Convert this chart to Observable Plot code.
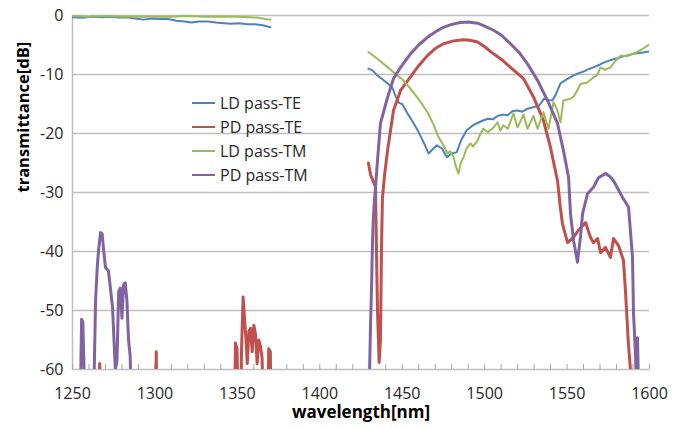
<!DOCTYPE html>
<html><head><meta charset="utf-8">
<script src="https://cdn.jsdelivr.net/npm/d3@7"></script>
<script src="https://cdn.jsdelivr.net/npm/@observablehq/plot@0.6"></script>
<style>
body{margin:0;background:#fff;}
#wrap{position:relative;width:683px;height:429px;font-family:"Open Sans",sans-serif;}
.legend{position:absolute;left:192px;top:91px;font-size:16px;color:#262626;line-height:24px;}
.legend div{display:flex;align-items:center;height:24px;}
.legend .sw{display:inline-block;width:23px;height:0;border-top:2.5px solid;margin-right:5px;}
</style></head><body><div id="wrap"></div>
<script>
const seriesNames = ["LD pass-TE", "PD pass-TE", "LD pass-TM", "PD pass-TM"];
const seriesColors = ["#4f81bd", "#c0504d", "#9bbb59", "#8064a2"];
const seriesWidths = [2, 3, 2, 3];
const xTicks = [1250, 1300, 1350, 1400, 1450, 1500, 1550, 1600];
const yTicks = [0, -10, -20, -30, -40, -50, -60];
const minorTicks = d3.range(1250, 1601, 10);

// values below -60 dB are off-scale (clipped); null breaks the line
const ldTE = [[1250,-0.3],[1256,-0.4],[1262,-0.2],[1268,-0.3],[1273,-0.2],[1278,-0.35],[1283,-0.3],[1288,-0.5],[1293,-0.7],[1298,-0.5],[1303,-0.6],[1308,-0.6],[1313,-0.9],[1318,-1.0],[1322,-1.2],[1327,-1.0],[1332,-1.0],[1337,-1.2],[1342,-1.3],[1346,-1.4],[1351,-1.3],[1356,-1.5],[1361,-1.5],[1366,-1.7],[1370,-2.0],[1371,null],
 [1429.5,-9],[1432,-9.3],[1435,-10.2],[1438,-10.8],[1441,-11.5],[1444,-12.2],[1446,-13.7],[1448,-14.8],[1450,-15],[1453,-16.5],[1457,-18.3],[1460,-19.8],[1463,-21.5],[1466,-23.4],[1468,-22.8],[1471,-22],[1474,-22.5],[1477,-24],[1480,-23.4],[1483,-23.2],[1486,-21],[1489,-19.5],[1492,-18.8],[1495,-18.3],[1499,-17.8],[1502,-17.5],[1505,-17.6],[1508,-17],[1511,-16.8],[1514,-16.9],[1517,-16.2],[1520,-16.1],[1523,-16.3],[1526,-15.8],[1530,-15.5],[1533,-15.3],[1536,-14.1],[1539,-14.3],[1541,-14.4],[1543,-13.5],[1546,-11.5],[1550,-10.8],[1553,-10.3],[1556,-9.9],[1560,-9.5],[1563,-9.1],[1566,-8.8],[1570,-8.3],[1573,-7.9],[1576,-7.6],[1580,-7.3],[1583,-7.0],[1586,-6.8],[1590,-6.5],[1595,-6.3],[1600,-6.1]];

const pdTE = [[1265.5,-70],[1266.5,-59],[1267.5,-70],[1300.3,-70],[1300.8,-57],[1301.3,-70],
 [1348.3,-70],[1348.8,-55.5],[1349.8,-56.5],[1350.8,-70],[1352,-70],[1352.5,-57],[1353.5,-47.7],[1354.5,-52],[1355.3,-55],[1356,-59],[1357,-53.5],[1358,-53],[1359,-57],[1360,-52.5],[1361,-54],[1362,-59],[1363,-55],[1364,-56],[1365,-58],[1366,-70],[1368.5,-70],[1369,-56.5],[1370,-57],[1370.5,-70],[1371,null],
 [1429.5,-25],[1430.8,-27],[1433.8,-29],[1434.4,-40],[1435,-50],[1436,-58.8],[1436.8,-55],[1437.4,-40],[1438,-31],[1439.3,-27],[1441.1,-22.9],[1444.7,-16.1],[1449,-12.7],[1455,-10.4],[1460,-8.5],[1465.3,-6.8],[1470,-5.6],[1475,-4.8],[1481,-4.3],[1487.2,-4.1],[1491,-4.2],[1495.7,-4.5],[1500,-5.3],[1505.4,-6.5],[1510,-7.4],[1515.7,-8.8],[1523.6,-10.7],[1529.6,-13.8],[1535.7,-17.8],[1539.9,-22.3],[1544.2,-28],[1545.9,-32.5],[1547.2,-35.3],[1550.3,-38.5],[1553.9,-37.6],[1556.9,-36.4],[1561.2,-35.1],[1564.2,-37.6],[1566,-38.5],[1568.5,-37.8],[1570.3,-40.2],[1573.3,-39.3],[1576.3,-41],[1578.2,-37.8],[1581.2,-39],[1584.2,-41.5],[1585.4,-46.6],[1587.2,-55.6],[1589,-62]];

const ldTM = [[1250,-0.1],[1260,-0.2],[1270,-0.1],[1280,-0.2],[1290,-0.15],[1300,-0.2],[1310,-0.2],[1320,-0.1],[1330,-0.2],[1340,-0.15],[1350,-0.2],[1358,-0.3],[1363,-0.4],[1367,-0.6],[1370,-0.7],[1371,null],
 [1429.5,-6.2],[1437,-7.8],[1444.7,-9.6],[1450,-10.8],[1455,-12.4],[1460,-14.2],[1465.3,-16.4],[1469,-18.5],[1472,-20.6],[1475,-22],[1477.5,-23.4],[1479,-23],[1481.1,-24],[1482.5,-25.5],[1484.1,-26.8],[1485.5,-25],[1487.2,-24],[1489,-22.5],[1491.4,-21.7],[1493,-22.2],[1495.7,-21.2],[1497.5,-20],[1499.3,-19.2],[1502,-19.8],[1505.4,-19],[1507.8,-18.1],[1509.5,-19.5],[1511.4,-18.6],[1514,-19.2],[1517.5,-16.6],[1519.9,-19],[1523.6,-16.8],[1526,-19.2],[1529.6,-17],[1532.1,-19.2],[1535.7,-16.4],[1538.7,-19.2],[1541.8,-14.7],[1544,-16],[1546,-18.1],[1547.8,-14.4],[1551,-14.2],[1553.9,-13.8],[1556,-12.8],[1558.1,-11.6],[1562,-11.4],[1566,-10.5],[1568,-10.2],[1570.3,-8.8],[1573,-9.2],[1576.3,-8.8],[1579,-7.8],[1582.4,-6.8],[1586,-6.9],[1590.3,-6.5],[1595,-5.8],[1600,-4.9]];

const pdTM = [[1254.5,-70],[1255.5,-51.5],[1256.3,-52],[1257,-60],[1258,-70],[1262.5,-70],[1264,-48.3],[1265,-42.7],[1265.8,-39.8],[1267,-36.8],[1268,-37],[1268.8,-39.5],[1270,-42.7],[1271.8,-43.3],[1273,-46.2],[1274.3,-49.5],[1275,-54],[1276,-60],[1277,-58.5],[1278,-46.8],[1279,-46.2],[1280,-51.3],[1281,-45.6],[1282,-45.3],[1283,-48.3],[1284,-55],[1285,-57.8],[1286,-70],[1287,null],
 [1429.5,-70],[1430.8,-52.2],[1431.4,-46],[1432,-38.1],[1432.6,-33.6],[1435,-24.6],[1436.8,-18.3],[1441.1,-13.9],[1444.7,-10.7],[1449,-8.8],[1455,-6.5],[1460,-5],[1465.3,-3.7],[1470,-2.8],[1475,-2.0],[1480,-1.5],[1485.3,-1.2],[1490,-1.1],[1495.7,-1.3],[1500,-1.8],[1505.4,-2.5],[1510,-3.3],[1515.7,-4.8],[1521,-6.3],[1526,-8.2],[1532.1,-11],[1538.1,-14.4],[1544.2,-18.3],[1547.8,-22.9],[1550.9,-27.4],[1552.1,-33.6],[1553.9,-38.1],[1556.3,-41.8],[1558.1,-37.6],[1559.4,-33.6],[1562.4,-30.2],[1566,-29.1],[1569,-27.5],[1573.3,-26.8],[1576,-27.3],[1578.2,-28],[1583.6,-30.8],[1587.3,-32.5],[1589.7,-41],[1590.3,-50.5],[1591.5,-57.3],[1592,-62],[1592.7,-54.6],[1593.3,-62]];

const allSeries = [ldTE, pdTE, ldTM, pdTM];

const lineMarks = allSeries.map((s, i) => Plot.line(s, {
  x: d => d[0], y: d => d[1], stroke: seriesColors[i], strokeWidth: seriesWidths[i], clip: true, curve: "linear"
}));

const chart = Plot.plot({
  width: 683, height: 429,
  marginLeft: 72, marginRight: 34, marginTop: 15, marginBottom: 60,
  style: {fontFamily: "'Open Sans', sans-serif", fontSize: "16px", color: "#262626", background: "#fff"},
  x: {domain: [1250, 1600]},
  y: {domain: [-60, 0]},
  marks: [
    Plot.ruleY(yTicks, {stroke: "#bfbfbf", strokeWidth: 1.5}),
    Plot.ruleX([1250], {stroke: "#bfbfbf", strokeWidth: 1.5}),
    Plot.tickX(minorTicks, {x: d => d, stroke: "#a6a6a6", strokeWidth: 1, insetTop: 349}),
    Plot.axisX({ticks: xTicks, tickSize: 0, tickPadding: 18, tickFormat: d => String(d), label: null, fontSize: 16}),
    Plot.axisY({ticks: yTicks, tickSize: 0, tickPadding: 9, tickFormat: d => String(d), label: null, fontSize: 16}),
    ...lineMarks,
    Plot.text(["transmittance[dB]"], {frameAnchor: "left", rotate: -90, dx: -49, fontWeight: "bold", fontSize: 16.5, fill: "#000"}),
    Plot.text(["wavelength[nm]"], {frameAnchor: "bottom", dy: 48, fontWeight: "bold", fontSize: 17, fill: "#000"})
  ]
});
const wrap = document.getElementById("wrap");
wrap.appendChild(chart);
const leg = document.createElement("div");
leg.className = "legend";
seriesNames.forEach((n, i) => {
  const row = document.createElement("div");
  row.innerHTML = `<span class="sw" style="border-top-color:${seriesColors[i]}"></span><span>${n}</span>`;
  leg.appendChild(row);
});
wrap.appendChild(leg);
</script></body></html>
